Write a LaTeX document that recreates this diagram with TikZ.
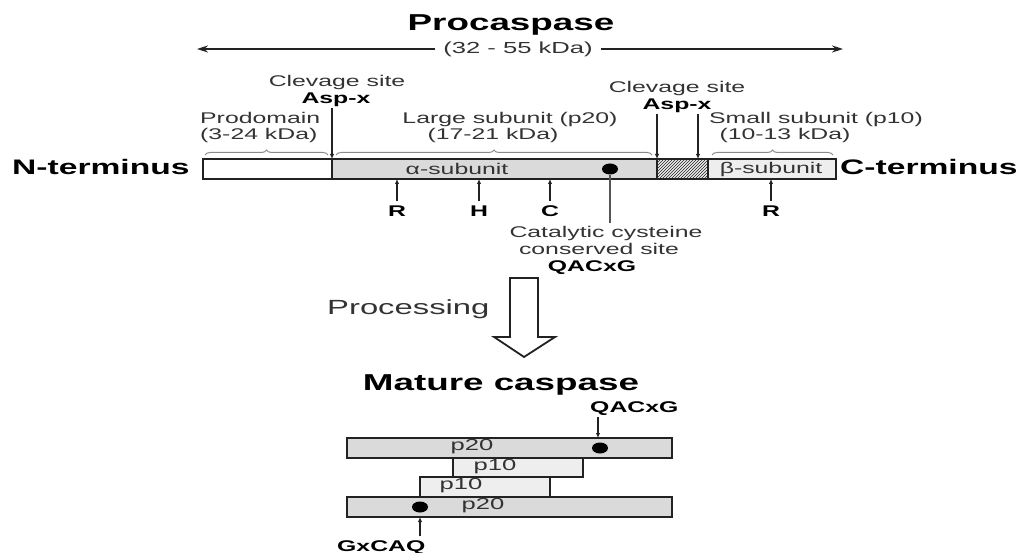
\documentclass[tikz,border=0pt]{standalone}
\usepackage{fontspec}
\setmainfont{Liberation Sans}[FakeStretch=1.6]
\usetikzlibrary{arrows.meta,decorations.pathreplacing,patterns,shapes.geometric}
\definecolor{linec}{HTML}{222222}
\definecolor{txtc}{HTML}{333333}
\definecolor{bargray}{HTML}{DADADA}
\definecolor{lightbar}{HTML}{EEEEEE}
\definecolor{bracec}{HTML}{8A8A8A}
\definecolor{catc}{HTML}{555555}
\begin{document}
\begin{tikzpicture}[x=1pt,y=-1pt,
  lbl/.style={font=\fontsize{15.5}{18}\selectfont, text=txtc, inner sep=0pt},
  blbl/.style={font=\bfseries\fontsize{15.5}{18}\selectfont, text=black, inner sep=0pt},
  ttl/.style={font=\bfseries\fontsize{23}{27}\selectfont, text=black, inner sep=0pt},
  term/.style={font=\bfseries\fontsize{21}{25}\selectfont, text=black, inner sep=0pt},
  plbl/.style={font=\fontsize{20.5}{24}\selectfont, text=txtc, inner sep=0pt},
  barseg/.style={draw=linec, line width=2pt, minimum height=20pt, inner sep=0pt, outer sep=0pt},
  pin/.style={draw=linec, line width=1.5pt, -{Latex[length=5pt,width=4.5pt]}},
  brc/.style={draw=bracec, line width=1pt, decorate, decoration={brace, amplitude=5pt}},
  spot/.style={ellipse, fill=black, minimum width=16pt, minimum height=11pt, inner sep=0pt},
  sizearrow/.style={draw=linec, line width=1.5pt, -{Stealth[length=11pt,width=7pt]}}
]
\useasboundingbox (0,0) rectangle (1023,553);
\fill[white] (0,0) rectangle (1023,553);

% Title and size
\node[ttl, anchor=base] (proc) at (511,31) {Procaspase};
\node[lbl, font=\fontsize{16}{19}\selectfont, inner xsep=8pt, anchor=center] (kda) at (518,49) {(32 - 55 kDa)};
\coordinate (la) at (197,49);
\coordinate (ra) at (843,49);
\draw[sizearrow] (kda) -- (la);
\draw[sizearrow] (kda) -- (ra);

% Main bar
\node[barseg, fill=white, minimum width=129pt] (pro) at (267.5,169) {};
\node[barseg, fill=bargray, minimum width=325pt] (alpha) at (494.5,169) {};
\node[barseg, preaction={fill=lightbar}, pattern=north east lines, pattern color=linec, minimum width=51pt] (hat) at (682.5,169) {};
\node[barseg, fill=lightbar, minimum width=128pt] (beta) at (772,169) {};
\node[lbl, anchor=center] (atxt) at (457,169) {α-subunit};
\node[lbl, anchor=center] (btxt) at (771,169) {β-subunit};
\node[spot] (dot1) at (610,169) {};

\node[term, anchor=base west] (nterm) at (12,175) {N-terminus};
\node[term, anchor=base west] (cterm) at (840,175) {C-terminus};

% Cleavage sites
\node[lbl, anchor=base] (cs1) at (337,87) {Clevage site};
\node[blbl, anchor=base] (asp1) at (336,104) {Asp-x};
\coordinate (c1) at (332,108);
\draw[pin] (c1) -- (pro.north east);
\node[lbl, anchor=base] (cs2) at (677,93) {Clevage site};
\node[blbl, anchor=base] (asp2) at (677,110) {Asp-x};
\coordinate (c2) at (657,114);
\coordinate (c3) at (698,114);
\coordinate (c2e) at (657,159);
\coordinate (c3e) at (698,159);
\draw[pin] (c2) -- (c2e);
\draw[pin] (c3) -- (c3e);

% Domain labels and braces
\node[lbl, anchor=base west] (prod) at (200,124) {Prodomain};
\node[lbl, anchor=base west] (prodk) at (200,140) {(3-24 kDa)};
\node[lbl, anchor=base] (large) at (510,124) {Large subunit (p20)};
\node[lbl, anchor=base] (largek) at (493,140) {(17-21 kDa)};
\node[lbl, anchor=base] (small) at (816,124) {Small subunit (p10)};
\node[lbl, anchor=base] (smallk) at (785,140) {(10-13 kDa)};
\coordinate (b1a) at (205,155); \coordinate (b1b) at (328,155);
\coordinate (b2a) at (336,155); \coordinate (b2b) at (652,155);
\coordinate (b3a) at (712,155); \coordinate (b3b) at (833,155);
\draw[brc] (b1a) -- (b1b);
\draw[brc] (b2a) -- (b2b);
\draw[brc] (b3a) -- (b3b);

% Residue markers
\node[blbl, anchor=base] (r1) at (397,217) {R};
\node[blbl, anchor=base] (h1) at (479,217) {H};
\node[blbl, anchor=base] (cc) at (550,217) {C};
\node[blbl, anchor=base] (r2) at (771,217) {R};
\coordinate (r1t) at (397,179); \coordinate (h1t) at (479,179);
\coordinate (cct) at (550,179); \coordinate (r2t) at (771,179);
\draw[pin] (r1.north) ++(0,-5) -- (r1t);
\draw[pin] (h1.north) ++(0,-5) -- (h1t);
\draw[pin] (cc.north) ++(0,-5) -- (cct);
\draw[pin] (r2.north) ++(0,-5) -- (r2t);

% Catalytic site
\coordinate (catl) at (610,223);
\draw[draw=catc, line width=1.5pt] (dot1) -- (catl);
\node[lbl, anchor=base] (cat1) at (606,238) {Catalytic cysteine};
\node[lbl, anchor=base] (cat2) at (599,255) {conserved site};
\node[blbl, anchor=base] (cat3) at (592,272) {QACxG};

% Processing
\node[plbl, anchor=base west] (procs) at (327,315) {Processing};
\draw[draw=linec, line width=1.8pt, fill=white, line join=miter]
  (510,278) -- (538,278) -- (538,337) -- (555,337) -- (524,357) -- (494,337) -- (510,337) -- cycle;

% Mature caspase
\node[ttl, anchor=base] (mat) at (501,390) {Mature caspase};

\node[barseg, fill=lightbar, minimum width=130pt, minimum height=19.5pt] (p10a) at (518,467.5) {};
\node[barseg, fill=lightbar, minimum width=130pt, minimum height=19.5pt] (p10b) at (485,487) {};
\node[barseg, fill=bargray, minimum width=325pt] (p20a) at (509.5,448) {};
\node[barseg, fill=bargray, minimum width=325pt] (p20b) at (509.5,507) {};
\node[lbl, font=\fontsize{16}{19}\selectfont] (t20a) at (472,447) {p20};
\node[lbl, font=\fontsize{16}{19}\selectfont] (t10a) at (495,466.5) {p10};
\node[lbl, font=\fontsize{16}{19}\selectfont] (t10b) at (461,486) {p10};
\node[lbl, font=\fontsize{16}{19}\selectfont] (t20b) at (483,506) {p20};
\node[spot] (dot2) at (600,448) {};
\node[spot] (dot3) at (420,507) {};

\node[blbl, anchor=base west] (q1) at (590,412) {QACxG};
\coordinate (q1s) at (598,417);
\coordinate (q1e) at (598,438);
\draw[pin] (q1s) -- (q1e);
\node[blbl, anchor=base west] (q2) at (337,551) {GxCAQ};
\coordinate (q2s) at (420,536);
\coordinate (q2e) at (420,517);
\draw[pin] (q2s) -- (q2e);
\end{tikzpicture}
\end{document}
